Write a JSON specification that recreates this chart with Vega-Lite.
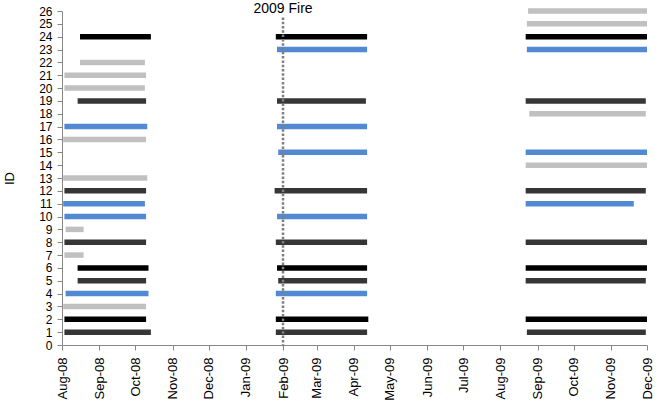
{
  "$schema": "https://vega.github.io/schema/vega-lite/v6.json",
  "width": 585,
  "height": 334,
  "autosize": "none",
  "padding": {"left": 62, "top": 11, "right": 15, "bottom": 58},
  "background": "white",
  "config": {
    "font": "Liberation Sans",
    "view": {"stroke": null},
    "axis": {"domainColor": "#888888", "tickColor": "#888888", "grid": false, "labelColor": "#000000", "titleColor": "#000000", "labelFont": "Liberation Sans", "titleFont": "Liberation Sans", "labelFontSize": 13, "titleFontSize": 13}
  },
  "datasets": {
    "bars": [
      {"id": 1, "start": "2008-08-03", "end": "2008-10-14", "cat": "dark"},
      {"id": 2, "start": "2008-08-03", "end": "2008-10-10", "cat": "black"},
      {"id": 3, "start": "2008-08-02", "end": "2008-10-10", "cat": "light"},
      {"id": 4, "start": "2008-08-04", "end": "2008-10-12", "cat": "blue"},
      {"id": 5, "start": "2008-08-14", "end": "2008-10-10", "cat": "dark"},
      {"id": 6, "start": "2008-08-14", "end": "2008-10-12", "cat": "black"},
      {"id": 7, "start": "2008-08-03", "end": "2008-08-19", "cat": "light"},
      {"id": 8, "start": "2008-08-03", "end": "2008-10-10", "cat": "dark"},
      {"id": 9, "start": "2008-08-04", "end": "2008-08-19", "cat": "light"},
      {"id": 10, "start": "2008-08-03", "end": "2008-10-10", "cat": "blue"},
      {"id": 11, "start": "2008-08-02", "end": "2008-10-09", "cat": "blue"},
      {"id": 12, "start": "2008-08-03", "end": "2008-10-10", "cat": "dark"},
      {"id": 13, "start": "2008-08-02", "end": "2008-10-11", "cat": "light"},
      {"id": 16, "start": "2008-08-02", "end": "2008-10-10", "cat": "light"},
      {"id": 17, "start": "2008-08-03", "end": "2008-10-11", "cat": "blue"},
      {"id": 19, "start": "2008-08-14", "end": "2008-10-10", "cat": "dark"},
      {"id": 20, "start": "2008-08-03", "end": "2008-10-09", "cat": "light"},
      {"id": 21, "start": "2008-08-03", "end": "2008-10-10", "cat": "light"},
      {"id": 22, "start": "2008-08-16", "end": "2008-10-09", "cat": "light"},
      {"id": 24, "start": "2008-08-16", "end": "2008-10-14", "cat": "black"},
      {"id": 1, "start": "2009-01-26", "end": "2009-04-12", "cat": "dark"},
      {"id": 2, "start": "2009-01-26", "end": "2009-04-13", "cat": "black"},
      {"id": 4, "start": "2009-01-26", "end": "2009-04-12", "cat": "blue"},
      {"id": 5, "start": "2009-01-28", "end": "2009-04-12", "cat": "dark"},
      {"id": 6, "start": "2009-01-27", "end": "2009-04-12", "cat": "black"},
      {"id": 8, "start": "2009-01-26", "end": "2009-04-12", "cat": "dark"},
      {"id": 10, "start": "2009-01-27", "end": "2009-04-12", "cat": "blue"},
      {"id": 12, "start": "2009-01-25", "end": "2009-04-12", "cat": "dark"},
      {"id": 15, "start": "2009-01-28", "end": "2009-04-12", "cat": "blue"},
      {"id": 17, "start": "2009-01-27", "end": "2009-04-12", "cat": "blue"},
      {"id": 19, "start": "2009-01-27", "end": "2009-04-11", "cat": "dark"},
      {"id": 23, "start": "2009-01-27", "end": "2009-04-12", "cat": "blue"},
      {"id": 24, "start": "2009-01-26", "end": "2009-04-12", "cat": "black"},
      {"id": 1, "start": "2009-08-23", "end": "2009-11-30", "cat": "dark"},
      {"id": 2, "start": "2009-08-22", "end": "2009-12-01", "cat": "black"},
      {"id": 5, "start": "2009-08-22", "end": "2009-11-30", "cat": "dark"},
      {"id": 6, "start": "2009-08-22", "end": "2009-12-01", "cat": "black"},
      {"id": 8, "start": "2009-08-22", "end": "2009-12-01", "cat": "dark"},
      {"id": 11, "start": "2009-08-22", "end": "2009-11-20", "cat": "blue"},
      {"id": 12, "start": "2009-08-22", "end": "2009-11-30", "cat": "dark"},
      {"id": 14, "start": "2009-08-22", "end": "2009-12-01", "cat": "light"},
      {"id": 15, "start": "2009-08-22", "end": "2009-12-01", "cat": "blue"},
      {"id": 18, "start": "2009-08-25", "end": "2009-11-30", "cat": "light"},
      {"id": 19, "start": "2009-08-22", "end": "2009-11-30", "cat": "dark"},
      {"id": 23, "start": "2009-08-23", "end": "2009-12-01", "cat": "blue"},
      {"id": 24, "start": "2009-08-22", "end": "2009-12-01", "cat": "black"},
      {"id": 25, "start": "2009-08-23", "end": "2009-12-01", "cat": "light"},
      {"id": 26, "start": "2009-08-24", "end": "2009-12-01", "cat": "light"}
    ],
    "fire": [
      {"start": "2009-02-01", "id": 25.5, "id2": -0.1, "label": "2009 Fire"}
    ]
  },
  "encoding": {
    "x": {
      "field": "start", "type": "temporal",
      "scale": {"type": "utc", "domain": [{"year": 2008, "month": 8, "date": 1, "utc": true}, {"year": 2009, "month": 12, "date": 1, "utc": true}], "nice": false},
      "axis": {
        "title": null,
        "format": "%b-%y",
        "values": [
          {"year": 2008, "month": 8, "date": 1, "utc": true},
          {"year": 2008, "month": 9, "date": 1, "utc": true},
          {"year": 2008, "month": 10, "date": 1, "utc": true},
          {"year": 2008, "month": 11, "date": 1, "utc": true},
          {"year": 2008, "month": 12, "date": 1, "utc": true},
          {"year": 2009, "month": 1, "date": 1, "utc": true},
          {"year": 2009, "month": 2, "date": 1, "utc": true},
          {"year": 2009, "month": 3, "date": 1, "utc": true},
          {"year": 2009, "month": 4, "date": 1, "utc": true},
          {"year": 2009, "month": 5, "date": 1, "utc": true},
          {"year": 2009, "month": 6, "date": 1, "utc": true},
          {"year": 2009, "month": 7, "date": 1, "utc": true},
          {"year": 2009, "month": 8, "date": 1, "utc": true},
          {"year": 2009, "month": 9, "date": 1, "utc": true},
          {"year": 2009, "month": 10, "date": 1, "utc": true},
          {"year": 2009, "month": 11, "date": 1, "utc": true},
          {"year": 2009, "month": 12, "date": 1, "utc": true}
        ],
        "labelAngle": 270,
        "labelAlign": "right",
        "labelBaseline": "middle",
        "labelFontSize": 13,
        "labelPadding": 7,
        "tickSize": 5,
        "labelOverlap": false,
        "labelFlush": false
      }
    },
    "y": {
      "field": "id", "type": "quantitative",
      "scale": {"domain": [0, 26], "nice": false, "zero": true},
      "axis": {
        "title": "ID",
        "values": [0,1,2,3,4,5,6,7,8,9,10,11,12,13,14,15,16,17,18,19,20,21,22,23,24,25,26],
        "labelFontSize": 12,
        "labelPadding": 5,
        "tickSize": 5,
        "titleFontSize": 13,
        "titleFontWeight": "normal",
        "titleX": -53,
        "titleY": 167,
        "titleAngle": 270,
        "titleAlign": "center",
        "titleBaseline": "middle",
        "labelOverlap": false,
        "labelFlush": false
      }
    }
  },
  "layer": [
    {
      "data": {"name": "bars"},
      "mark": {"type": "rule", "strokeWidth": 5.5, "strokeCap": "butt"},
      "encoding": {
        "x2": {"field": "end"},
        "color": {
          "field": "cat", "type": "nominal",
          "scale": {"domain": ["black", "dark", "light", "blue"], "range": ["#000000", "#363636", "#c0c0c0", "#5189d3"]},
          "legend": null
        }
      }
    },
    {
      "data": {"name": "fire"},
      "mark": {"type": "rule", "color": "#7f7f7f", "strokeWidth": 2.5, "strokeDash": [2.5, 1.8]},
      "encoding": {
        "y2": {"field": "id2"}
      }
    },
    {
      "data": {"name": "fire"},
      "mark": {"type": "text", "fontSize": 14, "align": "center", "baseline": "alphabetic", "color": "#000000", "dy": -4},
      "encoding": {
        "text": {"field": "label"}
      }
    }
  ]
}
